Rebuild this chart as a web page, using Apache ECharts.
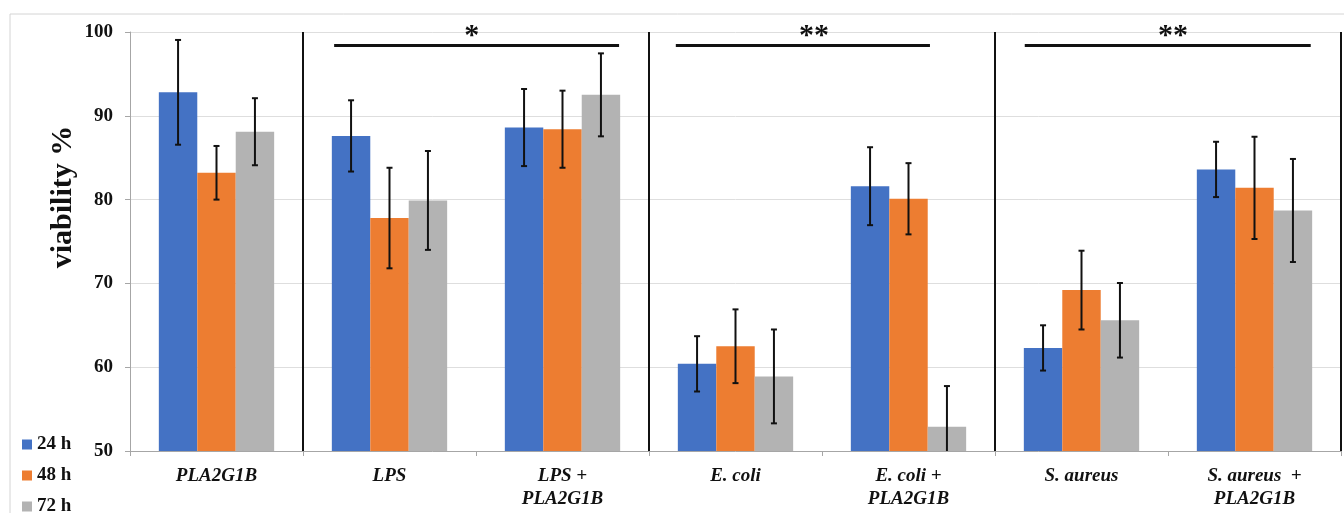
<!DOCTYPE html>
<html>
<head>
<meta charset="utf-8">
<script src="https://cdn.jsdelivr.net/npm/echarts@6/dist/echarts.min.js"></script>
<style>html,body{margin:0;padding:0;background:#fff;}#c{width:1344px;height:513px;}</style>
</head>
<body>
<div id="c"></div>
<script>
// ---- data ----
const categories = ['PLA2G1B', 'LPS', 'LPS +\nPLA2G1B', 'E. coli', 'E. coli +\nPLA2G1B', 'S. aureus', 'S. aureus  +\nPLA2G1B'];
const seriesNames = ['24 h', '48 h', '72 h'];
const v24 = [92.8, 87.6, 88.6, 60.4, 81.6, 62.3, 83.6];
const v48 = [83.2, 77.8, 88.4, 62.5, 80.1, 69.2, 81.4];
const v72 = [88.1, 79.9, 92.5, 58.9, 52.9, 65.6, 78.7];
const e24 = [6.25, 4.25, 4.6, 3.3, 4.65, 2.7, 3.3];
const e48 = [3.2, 6.0, 4.6, 4.4, 4.25, 4.7, 6.1];
const e72 = [4.0, 5.9, 4.95, 5.6, 4.85, 4.45, 6.15];
const yTicks = [50, 60, 70, 80, 90, 100];
// group separators (in category units) and significance brackets
const separators = [1, 3, 5, 7];
const sigStart = [1.18, 3.155, 5.172];
const sigEnd = [2.827, 4.624, 6.825];
const sigLevel = [98.4, 98.4, 98.4];
const sigLabel = ['*', '**', '**'];
const sigStarX = [1.975, 3.954, 6.029];
const sigStarY = [99.5, 99.5, 99.5];

const colors = ['#4472C4', '#ED7D31', '#B3B3B3'];
const values = [v24, v48, v72];
const errors = [e24, e48, e72];
const serif = '"Liberation Serif", "Times New Roman", serif';

const chart = echarts.init(document.getElementById('c'), null, {renderer: 'canvas'});

const barSeries = values.map((vals, k) => ({
  name: seriesNames[k],
  type: 'bar',
  xAxisIndex: 0,
  yAxisIndex: 0,
  data: vals,
  barGap: '0%',
  barCategoryGap: '33.333%',
  itemStyle: {color: colors[k]},
  silent: true,
  z: 2
}));

const errSeries = values.map((vals, k) => ({
  type: 'custom',
  xAxisIndex: 0,
  yAxisIndex: 0,
  silent: true,
  clip: true,
  z: 5,
  data: vals.map((v, i) => [i, v, errors[k][i]]),
  renderItem: function (params, api) {
    const ci = api.value(0), v = api.value(1), e = api.value(2);
    const cw = api.size([1, 0])[0];
    const bw = cw * (2 / 3) / 3;
    const off = (k - 1) * bw;
    const top = api.coord([ci, v + e]);
    const bot = api.coord([ci, v - e]);
    const x = top[0] + off;
    const cap = 3;
    const st = {stroke: '#111', lineWidth: 2};
    return {
      type: 'group',
      children: [
        {type: 'line', shape: {x1: x, y1: top[1], x2: x, y2: bot[1]}, style: st},
        {type: 'line', shape: {x1: x - cap, y1: top[1], x2: x + cap, y2: top[1]}, style: st},
        {type: 'line', shape: {x1: x - cap, y1: bot[1], x2: x + cap, y2: bot[1]}, style: st}
      ]
    };
  }
}));

const sepSeries = {
  type: 'custom',
  xAxisIndex: 1,
  yAxisIndex: 0,
  silent: true,
  z: 4,
  data: separators.map(s => [s]),
  renderItem: function (params, api) {
    const p1 = api.coord([api.value(0), 50]);
    const p2 = api.coord([api.value(0), 100]);
    return {type: 'line', shape: {x1: p1[0], y1: p1[1], x2: p2[0], y2: p2[1]}, style: {stroke: '#111', lineWidth: 2}};
  }
};

const sigSeries = {
  type: 'custom',
  xAxisIndex: 1,
  yAxisIndex: 0,
  silent: true,
  z: 6,
  data: sigStart.map((s, i) => [s, sigEnd[i], sigLevel[i], sigStarX[i], sigStarY[i], i]),
  renderItem: function (params, api) {
    const i = api.value(5);
    const p1 = api.coord([api.value(0), api.value(2)]);
    const p2 = api.coord([api.value(1), api.value(2)]);
    const ps = api.coord([api.value(3), api.value(4)]);
    return {
      type: 'group',
      children: [
        {type: 'line', shape: {x1: p1[0], y1: p1[1], x2: p2[0], y2: p2[1]}, style: {stroke: '#111', lineWidth: 3}},
        {type: 'text', x: ps[0], y: ps[1], style: {text: sigLabel[i], textAlign: 'center', textVerticalAlign: 'middle', fill: '#111', font: 'bold 30px ' + serif}}
      ]
    };
  }
};

const legendTops = [435, 466, 497];
const legends = seriesNames.map((n, k) => ({
  orient: 'vertical',
  left: 22,
  top: legendTops[k],
  padding: 0,
  itemWidth: 10,
  itemHeight: 10,
  icon: 'rect',
  selectedMode: false,
  data: [n],
  textStyle: {fontFamily: serif, fontWeight: 'bold', fontSize: 19, color: '#111', lineHeight: 16}
}));

const option = {
  animation: false,
  backgroundColor: '#fff',
  grid: {left: 130, right: 3, top: 32, bottom: 62, containLabel: false},
  legend: legends,
  xAxis: [{
    type: 'category',
    data: categories,
    axisLine: {show: true, lineStyle: {color: '#a6a6a6', width: 1}},
    axisTick: {show: true, length: 5, interval: 0, lineStyle: {color: '#a6a6a6'}},
    axisLabel: {
      interval: 0, margin: 14,
      fontFamily: serif, fontWeight: 'bold', fontStyle: 'italic', fontSize: 19, color: '#111', lineHeight: 23
    },
    splitLine: {show: false}
  }, {
    type: 'value', min: 0, max: 7, show: false
  }],
  yAxis: {
    type: 'value',
    min: yTicks[0],
    max: yTicks[yTicks.length - 1],
    interval: 10,
    axisLine: {show: true, lineStyle: {color: '#a6a6a6', width: 1}},
    axisTick: {show: true, length: 5, lineStyle: {color: '#a6a6a6'}},
    axisLabel: {margin: 17, fontFamily: serif, fontWeight: 'bold', fontSize: 19, color: '#111'},
    splitLine: {show: true, lineStyle: {color: '#dedede', width: 1}}
  },
  graphic: [
    {type: 'rect', silent: true, shape: {x: 10, y: 14, width: 1400, height: 600}, style: {fill: 'none', stroke: '#d4d4d4', lineWidth: 1}, z: 0},
    {type: 'text', silent: true, x: 63, y: 197, rotation: Math.PI / 2,
     style: {text: 'viability %', textAlign: 'center', textVerticalAlign: 'middle', fill: '#111', font: 'bold 30px ' + serif}}
  ],
  series: [...barSeries, ...errSeries, sepSeries, sigSeries]
};
chart.setOption(option);
</script>
</body>
</html>
